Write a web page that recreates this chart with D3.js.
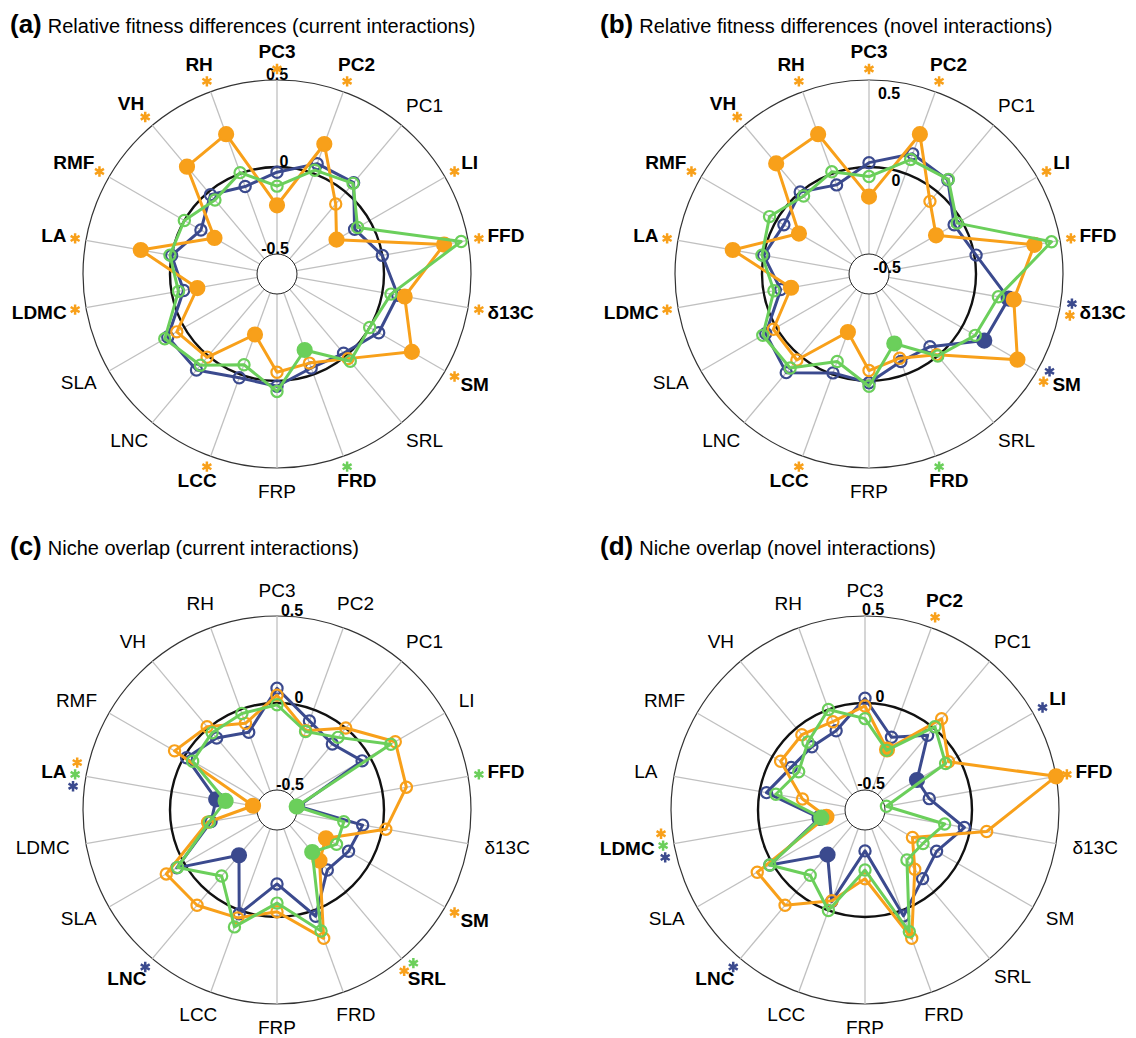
<!DOCTYPE html>
<html lang="en">
<head>
<meta charset="UTF-8">
<title>Fitness differences and niche overlap</title>
<style>
  body { margin: 0; background: #fff; }
  svg { display: block; font-family: "Liberation Sans", Arial, sans-serif; }
</style>
</head>
<body>
<svg id="chart" width="1136" height="1038"></svg>
<script src="https://d3js.org/d3.v7.min.js"></script>
<script>
// traits, clockwise from the top
const axes = ["PC3", "PC2", "PC1", "LI", "FFD", "δ13C", "SM", "SRL", "FRD", "FRP",
              "LCC", "LNC", "SLA", "LDMC", "LA", "RMF", "VH", "RH"];
const tickValues = [0.5, 0, -0.5];
const tickLabels = ["0.5", "0", "-0.5"];

// (a) relative fitness differences, current interactions
const aOrange = [-0.22, 0.18, -0.09, -0.22, 0.36, 0.13, 0.28, 0.02, -0.07, -0.05, -0.245, 0.01, 0.05, -0.15, 0.18, -0.20, 0.19, 0.24];
const aBlue   = [-0.03, 0.06, 0.07, -0.10, 0.00, 0.09, 0.06, -0.02, -0.04, 0.03, 0.02, 0.105, 0.11, -0.07, 0.00, -0.11, -0.02, -0.08];
const aGreen  = [-0.11, 0.02, 0.065, -0.08, 0.46, 0.05, 0.00, 0.04, -0.15, 0.06, -0.06, 0.07, 0.13, -0.04, 0.01, 0.00, -0.06, 0.005];
const aSigOrange = ["PC3", "PC2", "LI", "FFD", "δ13C", "SM", "LCC", "LDMC", "LA", "RMF", "VH", "RH"];
const aSigBlue = [];
const aSigGreen = ["FRD"];

// (b) relative fitness differences, novel interactions
const bOrange = [-0.17, 0.24, -0.07, -0.17, 0.35, 0.23, 0.37, -0.01, -0.10, -0.06, -0.26, 0.03, 0.02, -0.16, 0.18, -0.15, 0.215, 0.24];
const bBlue   = [0.025, 0.12, 0.09, -0.05, 0.01, 0.20, 0.15, -0.07, -0.08, 0.01, -0.01, 0.125, 0.07, -0.10, 0.00, -0.05, 0.00, -0.07];
const bGreen  = [-0.055, 0.085, 0.095, -0.03, 0.45, 0.14, 0.09, 0.00, -0.19, 0.03, -0.08, 0.09, 0.09, -0.06, 0.01, 0.045, -0.03, 0.01];
const bSigOrange = ["PC3", "PC2", "LI", "FFD", "δ13C", "SM", "LCC", "LDMC", "LA", "RMF", "VH", "RH"];
const bSigBlue = ["δ13C", "SM"];
const bSigGreen = ["FRD"];

// (c) niche overlap, current interactions
const cOrange = [0.045, -0.13, 0.00, 0.17, 0.14, 0.02, -0.29, -0.235, 0.17, -0.03, 0.045, 0.10, 0.12, -0.21, -0.475, 0.065, 0.01, -0.085];
const cBlue   = [0.085, -0.07, -0.12, -0.05, -0.49, -0.115, -0.14, -0.165, 0.035, -0.19, 0.02, -0.275, 0.05, -0.23, -0.26, -0.015, -0.075, -0.14];
const cGreen  = [-0.01, -0.135, -0.07, 0.14, -0.50, -0.225, -0.22, -0.30, 0.125, -0.08, 0.10, -0.12, 0.045, -0.22, -0.315, -0.055, -0.035, -0.025];
const cSigOrange = ["SM", "SRL", "LA"];
const cSigBlue = ["LNC", "LA"];
const cSigGreen = ["FFD", "SRL", "LA"];

// (d) niche overlap, novel interactions
const dOrange = [-0.017, -0.245, 0.07, -0.06, 0.50, 0.095, -0.30, -0.17, 0.17, -0.22, -0.06, 0.10, 0.10, -0.39, -0.25, -0.055, -0.05, -0.075];
const dBlue   = [0.027, -0.17, -0.055, -0.27, -0.24, -0.035, -0.14, -0.10, 0.033, -0.38, -0.055, -0.28, 0.017, -0.35, -0.04, -0.125, -0.14, -0.13];
const dGreen  = [-0.09, -0.25, 0.01, -0.08, -0.49, -0.15, -0.23, -0.24, 0.13, -0.27, 0.00, -0.125, 0.017, -0.36, -0.095, -0.175, -0.105, 0.00];
const dSigOrange = ["PC2", "FFD", "LDMC"];
const dSigBlue = ["LI", "LNC", "LDMC"];
const dSigGreen = ["LDMC"];

const colors = { blue: "#3b4a8e", orange: "#f8a01a", green: "#6bcf5b" };

const panels = [
  { letter: "(a)", title: "Relative fitness differences (current interactions)", x: 277, y: 274,
    tx: 10, ty: 33, tickDx: 0, tickDy: 0,
    series: { blue: aBlue, orange: aOrange, green: aGreen },
    sig: { orange: aSigOrange, green: aSigGreen, blue: aSigBlue } },
  { letter: "(b)", title: "Relative fitness differences (novel interactions)", x: 869, y: 274,
    tx: 600, ty: 33, tickDx: 20, tickDy: 19,
    series: { blue: bBlue, orange: bOrange, green: bGreen },
    sig: { orange: bSigOrange, green: bSigGreen, blue: bSigBlue } },
  { letter: "(c)", title: "Niche overlap (current interactions)", x: 277, y: 810,
    tx: 10, ty: 555, tickDx: 15, tickDy: 0,
    series: { blue: cBlue, orange: cOrange, green: cGreen },
    sig: { orange: cSigOrange, green: cSigGreen, blue: cSigBlue } },
  { letter: "(d)", title: "Niche overlap (novel interactions)", x: 865, y: 810,
    tx: 600, ty: 555, tickDx: 8, tickDy: -1,
    series: { blue: dBlue, orange: dOrange, green: dGreen },
    sig: { orange: dSigOrange, green: dSigGreen, blue: dSigBlue } }
];

const svg = d3.select("#chart");

// radial scale: hole edge is -0.5, outer ring is 0.5
const r = d3.scaleLinear().domain([-0.5, 0.5]).range([20, 194]);
const angle = d3.scaleLinear().domain([0, axes.length]).range([0, 2 * Math.PI]);

const drawOrder = ["blue", "orange", "green"];
const starOrder = ["orange", "green", "blue"];
const tickBaseDx = [0, 7, -2];

panels.forEach(p => {
  // title
  const t = svg.append("text").attr("x", p.tx).attr("y", p.ty);
  t.append("tspan").attr("font-weight", "bold").attr("font-size", 26).text(p.letter);
  t.append("tspan").attr("font-size", 20).attr("dx", 6).text(p.title);

  const g = svg.append("g").attr("transform", "translate(" + p.x + "," + p.y + ")");

  // outer ring and spokes
  g.append("circle").attr("r", r(0.5)).attr("fill", "none").attr("stroke", "#333").attr("stroke-width", 1.2);
  g.selectAll(".spoke")
    .data(axes)
    .enter()
    .append("line")
    .attr("class", "spoke")
    .attr("x1", (d, i) => d3.pointRadial(angle(i), r(-0.5))[0])
    .attr("y1", (d, i) => d3.pointRadial(angle(i), r(-0.5))[1])
    .attr("x2", (d, i) => d3.pointRadial(angle(i), r(0.5))[0])
    .attr("y2", (d, i) => d3.pointRadial(angle(i), r(0.5))[1])
    .attr("stroke", "#c0c0c0")
    .attr("stroke-width", 1.3);

  // zero ring and centre hole
  g.append("circle").attr("r", r(0)).attr("fill", "none").attr("stroke", "#111").attr("stroke-width", 2.4);
  g.append("circle").attr("r", r(-0.5)).attr("fill", "#fff").attr("stroke", "#222").attr("stroke-width", 1);

  // tick labels along the top spoke
  tickValues.forEach((v, k) => {
    g.append("text")
      .attr("x", tickBaseDx[k] + p.tickDx)
      .attr("y", -r(v) - 6 + p.tickDy)
      .attr("dy", "0.35em")
      .attr("text-anchor", "middle")
      .attr("font-weight", "bold")
      .attr("font-size", 16)
      .text(tickLabels[k]);
  });

  // series: closed line with markers, filled where significant
  const line = d3.lineRadial()
    .angle((d, i) => angle(i))
    .radius(d => r(d))
    .curve(d3.curveLinearClosed);

  drawOrder.forEach(name => {
    const vals = p.series[name];
    const sg = g.append("g");
    sg.append("path")
      .attr("d", line(vals))
      .attr("fill", "none")
      .attr("stroke", colors[name])
      .attr("stroke-width", 3)
      .attr("stroke-linejoin", "round");
    sg.selectAll("circle")
      .data(vals)
      .enter()
      .append("circle")
      .attr("cx", (d, i) => d3.pointRadial(angle(i), r(d))[0])
      .attr("cy", (d, i) => d3.pointRadial(angle(i), r(d))[1])
      .attr("r", (d, i) => p.sig[name].includes(axes[i]) ? 7 : 5.6)
      .attr("fill", (d, i) => p.sig[name].includes(axes[i]) ? colors[name] : "none")
      .attr("stroke", colors[name])
      .attr("stroke-width", 2.2);
  });

  // trait labels, bold with coloured asterisks when significant
  axes.forEach((name, i) => {
    const a = angle(i);
    const s = Math.sin(a), c = -Math.cos(a);
    const hits = starOrder.filter(k => p.sig[k].includes(name));
    const bold = hits.length > 0;
    const lab = g.append("text")
      .attr("font-size", 19)
      .attr("font-weight", bold ? "bold" : "normal")
      .attr("text-anchor", "middle")
      .attr("dy", "0.35em")
      .text(name);
    const w = lab.node().getComputedTextLength();
    const Rl = bold ? 214 : 211;
    lab.attr("x", s * (Rl + w / 2)).attr("y", c * (Rl + (c < 0 ? 9 : 6)));

    // stack asterisks across the spoke
    const px = Math.cos(a), py = Math.sin(a);
    hits.forEach((k, j) => {
      const off = ((hits.length - 1) / 2 - j) * 12;
      const sx = s * 205 + px * off, sy = c * 205 + py * off;
      if (d3.symbolAsterisk) {
        g.append("path")
          .attr("d", d3.symbol(d3.symbolAsterisk, 75)())
          .attr("transform", "translate(" + sx + "," + sy + ")")
          .attr("fill", "none")
          .attr("stroke", colors[k])
          .attr("stroke-width", 2.5);
      } else {
        g.append("text").attr("x", sx).attr("y", sy + 8).attr("text-anchor", "middle")
          .attr("font-size", 20).attr("font-weight", "bold").attr("fill", colors[k]).text("*");
      }
    });
  });
});
</script>
</body>
</html>
